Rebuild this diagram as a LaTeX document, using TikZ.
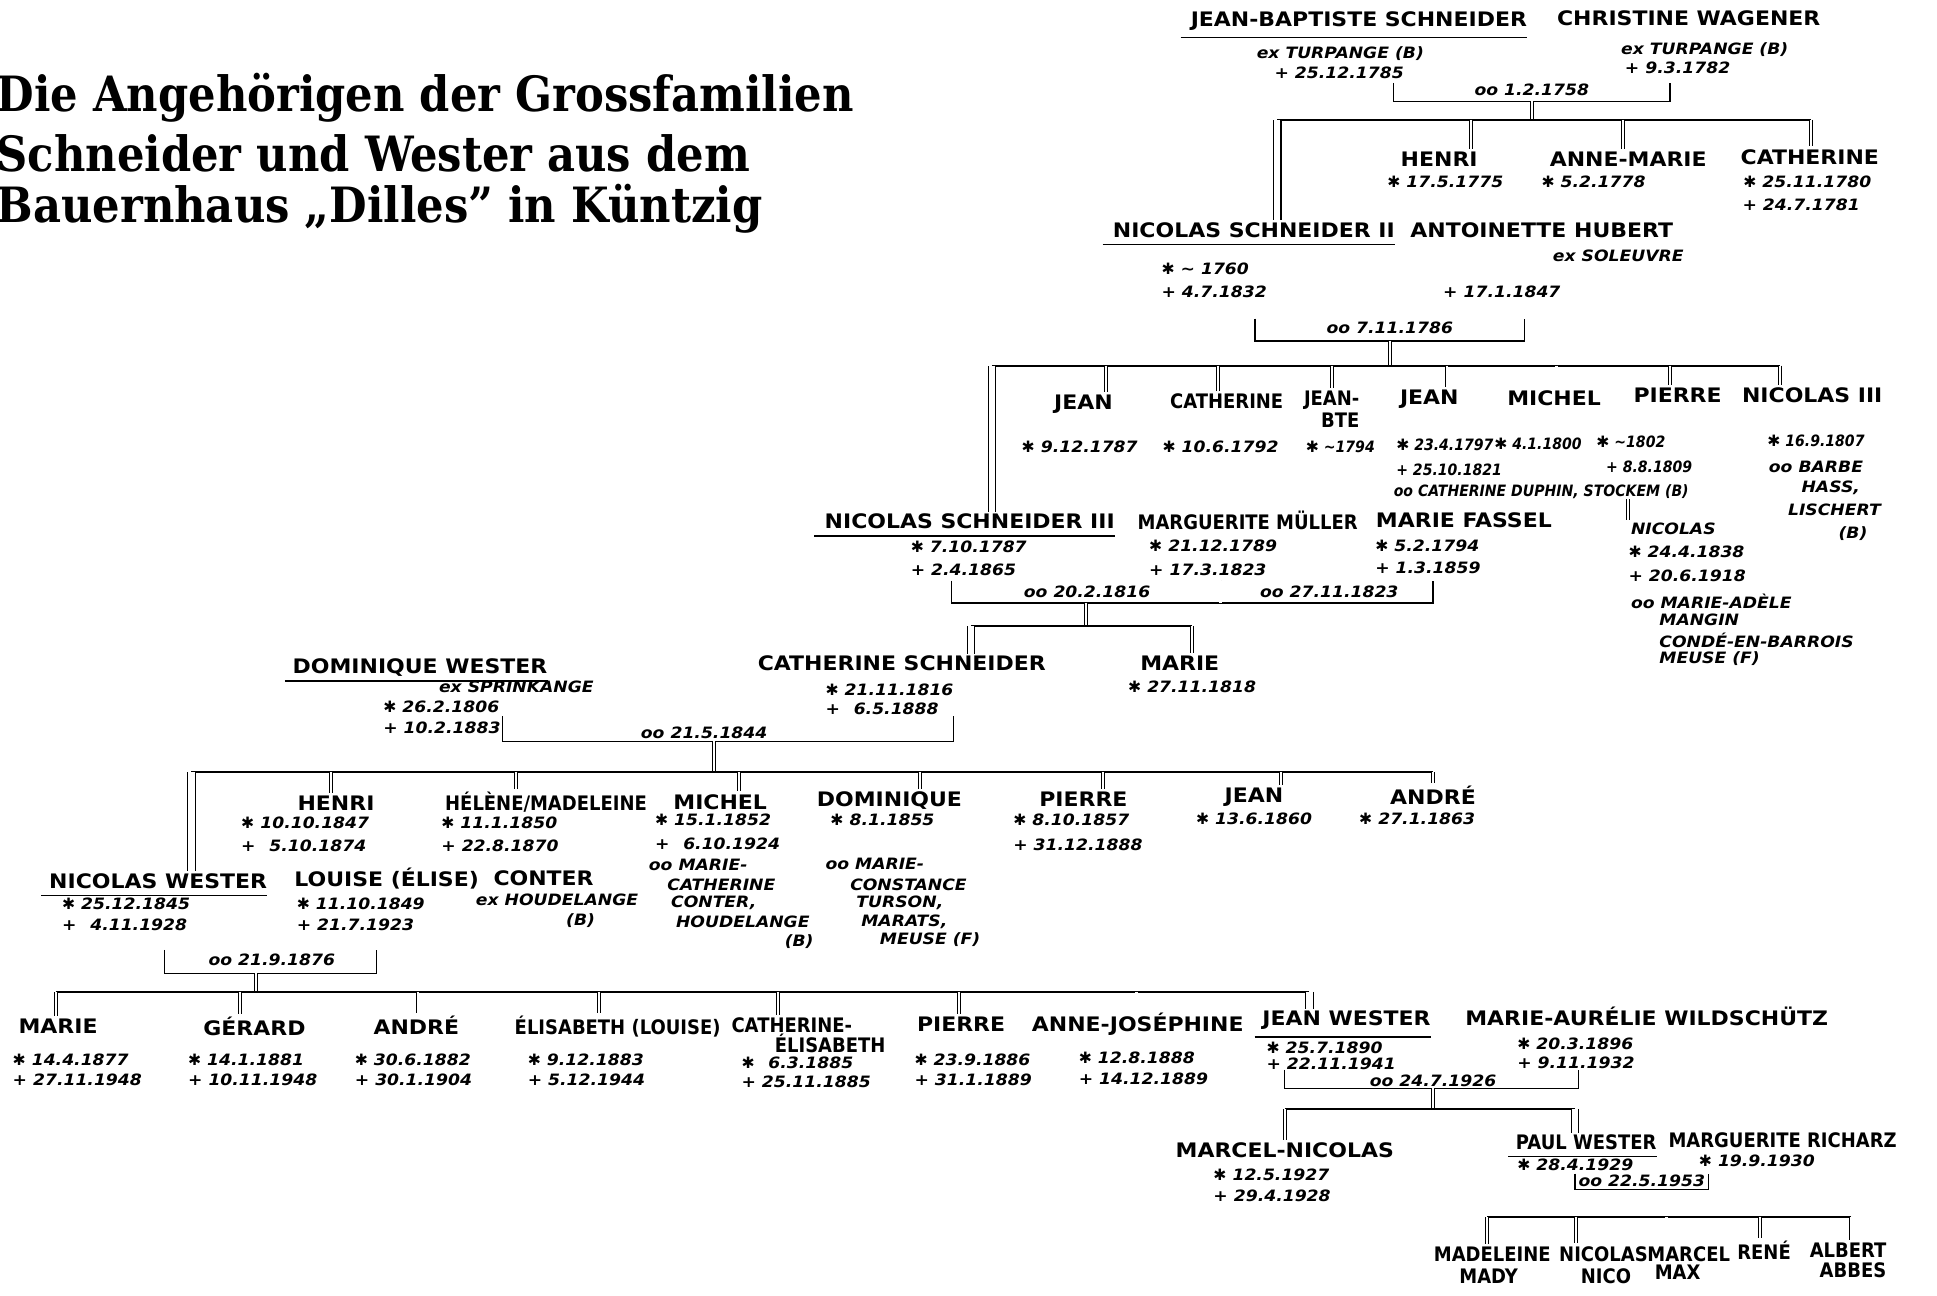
\documentclass[tikz,border=0pt]{standalone}
\usepackage{fontspec}
\newfontfamily\titlefont{DejaVu Serif}[FakeStretch=0.89]
\newfontfamily\handfont{DejaVu Sans}[FakeStretch=1.1]
\newfontfamily\handnarrow{DejaVu Sans}[FakeStretch=0.9]
\newfontfamily\starfont{DejaVu Sans}
\newcommand{\born}{{\starfont\mdseries\upshape\char"2731}}
\newcommand{\wed}{oo}
\tikzset{
  person/.style={font=\handfont\bfseries\fontsize{11.5}{12}\selectfont,inner sep=0pt},
  slim/.style={person,font=\handnarrow\bfseries\fontsize{11.5}{12}\selectfont},
  dates/.style={font=\handfont\bfseries\itshape\fontsize{9}{10}\selectfont,inner sep=0pt},
  tight/.style={font=\handnarrow\bfseries\itshape\fontsize{9}{10}\selectfont,inner sep=0pt},
  heading/.style={font=\titlefont\bfseries\fontsize{28}{30}\selectfont,inner sep=0pt,anchor=west},
  uline/.style={line width=0.9pt},
  sibline/.style={line width=1.2pt},
  bracket/.style={line width=0.8pt},
  stem/.style={double,double distance=1.2pt,line width=0.5pt},
  drop/.style={stem,shorten >=1.5pt},
  lineage/.style={double,double distance=3.5pt,line width=0.7pt,shorten >=1pt}
}
\begin{document}
\begin{tikzpicture}[x=0.25mm,y=-0.25mm]
  \useasboundingbox (0,0) rectangle (1568,1049);

  \node[heading] (t1) at (-3,79) {Die Angehörigen der Grossfamilien};
  \node[heading] (t2) at (-3,124) {Schneider und Wester aus dem};
  \node[heading] (t3) at (-3,169) {Bauernhaus „Dilles” in Küntzig};

  % Jean-Baptiste Schneider oo Christine Wagener
  \node[person] (jbs) at (1100,17) {JEAN-BAPTISTE SCHNEIDER};
  \node[person] (cw) at (1367,15) {CHRISTINE WAGENER};
  \draw[uline] ([xshift=-2mm,yshift=-1.4mm]jbs.south west) -- ([yshift=-1.4mm]jbs.south east);
  \node[dates] (jbsex) at (1085,43) {ex TURPANGE (B)};
  \node[dates] (jbsd) at (1084,59) {+ 25.12.1785};
  \node[dates] (cwex) at (1380,40) {ex TURPANGE (B)};
  \node[dates] (cwd) at (1358,55) {+ 9.3.1782};
  \node[dates] (w1) at (1240,73) {\wed{} 1.2.1758};
  \coordinate (w1l) at (1128,67);
  \coordinate (w1r) at (1352,67);
  \draw[bracket] (w1l) -- ++(0,15) -| (w1r);
  \coordinate (s1) at (1240,82);
  \coordinate (f1) at (1240,97);
  \coordinate (f1a) at (1034,97);
  \coordinate (f1b) at (1466,97);
  \draw[stem] (s1) -- (f1);
  \draw[sibline] (f1a) -- (f1b);

  \node[person] (henri) at (1165,129) {HENRI};
  \node[dates] (henrib) at (1170,147) {\born{} 17.5.1775};
  \node[person] (annemarie) at (1318,129) {ANNE-MARIE};
  \node[dates] (annemarieb) at (1290,147) {\born{} 5.2.1778};
  \node[person] (cath1) at (1465,127) {CATHERINE};
  \node[dates] (cath1b) at (1463,147) {\born{} 25.11.1780};
  \node[dates] (cath1d) at (1458,166) {+ 24.7.1781};
  \coordinate (d1a) at (1191,97);
  \coordinate (d1b) at (1314,97);
  \draw[drop] (d1a) -- (d1a |- henri.north);
  \draw[drop] (d1b) -- (d1b |- annemarie.north);
  \draw[drop] (f1b) -- (f1b |- cath1.north);

  % Nicolas Schneider II oo Antoinette Hubert
  \node[person] (nic2) at (1015,186) {NICOLAS SCHNEIDER II};
  \draw[uline] ([xshift=-2mm,yshift=-1.4mm]nic2.south west) -- ([yshift=-1.4mm]nic2.south east);
  \draw[lineage] (f1a) -- (f1a |- nic2.north);
  \node[person] (ah) at (1248,186) {ANTOINETTE HUBERT};
  \node[dates] (ahex) at (1310,207) {ex SOLEUVRE};
  \node[dates,anchor=west] (nic2b) at (940,218) {\born{} \textasciitilde{} 1760};
  \node[dates,anchor=west] (nic2d) at (940,236) {+ 4.7.1832};
  \node[dates,anchor=west] (ahd) at (1168,236) {+ 17.1.1847};
  \node[dates] (w2) at (1125,265) {\wed{} 7.11.1786};
  \coordinate (w2l) at (1016,258);
  \coordinate (w2r) at (1234,258);
  \draw[bracket] (w2l) -- ++(0,18) -| (w2r);
  \coordinate (s2) at (1125,276);
  \coordinate (f2) at (1125,296);
  \coordinate (f2a) at (803,296);
  \coordinate (f2b) at (1441,296);
  \draw[stem] (s2) -- (f2);
  \draw[sibline] (f2a) -- (f2b);

  \node[person] (jean1) at (877,327) {JEAN};
  \node[dates] (jean1b) at (874,362) {\born{} 9.12.1787};
  \node[slim] (cath2) at (993,325) {CATHERINE};
  \node[dates] (cath2b) at (988,362) {\born{} 10.6.1792};
  \node[slim] (jbte) at (1078,324) {JEAN-};
  \node[slim] (jbte2) at (1085,340) {BTE};
  \node[tight] (jbteb) at (1085,362) {\born{} \textasciitilde 1794};
  \node[person] (jean2) at (1157,323) {JEAN};
  \node[tight,anchor=west] (jean2b) at (1130,360) {\born{} 23.4.1797};
  \node[tight,anchor=west] (jean2d) at (1130,380) {+ 25.10.1821};
  \node[tight,anchor=west] (jean2w) at (1128,398) {\wed{} CATHERINE DUPHIN, STOCKEM (B)};
  \node[person] (michel) at (1258,322) {MICHEL};
  \node[tight] (michelb) at (1245,359) {\born{} 4.1.1800};
  \node[person] (pierre) at (1358,320) {PIERRE};
  \node[tight,anchor=west] (pierreb) at (1292,358) {\born{} \textasciitilde 1802};
  \node[tight] (pierred) at (1335,378) {+ 8.8.1809};
  \node[person] (nic4) at (1467,320) {NICOLAS III};
  \node[tight] (nic4b) at (1470,357) {\born{} 16.9.1807};
  \node[dates] (nic4w) at (1470,378) {\wed{} BARBE};
  \node[dates] (nic4w2) at (1482,395) {HASS,};
  \node[dates] (nic4w3) at (1485,413) {LISCHERT};
  \node[dates] (nic4w4) at (1500,432) {(B)};
  \coordinate (d2a) at (895,296);
  \coordinate (d2b) at (986,296);
  \coordinate (d2c) at (1078,296);
  \coordinate (d2d) at (1171,296);
  \coordinate (d2e) at (1260,296);
  \coordinate (d2f) at (1352,296);
  \draw[drop] (d2a) -- (d2a |- jean1.north);
  \draw[drop] (d2b) -- (d2b |- cath2.north);
  \draw[drop] (d2c) -- (d2c |- jbte.north);
  \draw[drop] (d2d) -- (d2d |- jean2.north);
  \draw[drop] (d2e) -- (d2e |- michel.north);
  \draw[drop] (d2f) -- (d2f |- pierre.north);
  \draw[drop] (f2b) -- (f2b |- nic4.north);

  \node[dates,anchor=west] (nics) at (1320,428) {NICOLAS};
  \coordinate (dsa) at (1318,404);
  \draw[drop] (dsa) -- (dsa |- nics.north);
  \node[dates,anchor=west] (nicsb) at (1318,447) {\born{} 24.4.1838};
  \node[dates,anchor=west] (nicsd) at (1318,466) {+ 20.6.1918};
  \node[dates,anchor=west] (nicsw) at (1320,487) {\wed{} MARIE-ADÈLE};
  \node[dates,anchor=west] (nicsw2) at (1343,502) {MANGIN};
  \node[dates,anchor=west] (nicsw3) at (1343,518) {CONDÉ-EN-BARROIS};
  \node[dates,anchor=west] (nicsw4) at (1343,533) {MEUSE (F)};

  % Nicolas Schneider III oo Marguerite Mueller, oo Marie Fassel
  \node[person] (nic3) at (785,422) {NICOLAS SCHNEIDER III};
  \draw[uline] ([xshift=-2mm,yshift=-1.4mm]nic3.south west) -- ([yshift=-1.4mm]nic3.south east);
  \draw[lineage] (f2a) -- (f2a |- nic3.north);
  \node[slim] (mm) at (1010,421) {MARGUERITE MÜLLER};
  \node[person] (mf) at (1185,421) {MARIE FASSEL};
  \node[dates,anchor=west] (nic3b) at (737,443) {\born{} 7.10.1787};
  \node[dates,anchor=west] (nic3d) at (737,461) {+ 2.4.1865};
  \node[dates,anchor=west] (mmb) at (930,442) {\born{} 21.12.1789};
  \node[dates,anchor=west] (mmd) at (930,461) {+ 17.3.1823};
  \node[dates,anchor=west] (mfb) at (1113,442) {\born{} 5.2.1794};
  \node[dates,anchor=west] (mfd) at (1113,460) {+ 1.3.1859};
  \node[dates] (w3a) at (880,479) {\wed{} 20.2.1816};
  \node[dates] (w3b) at (1076,479) {\wed{} 27.11.1823};
  \coordinate (w3l) at (770,470);
  \coordinate (w3m) at (988,470);
  \coordinate (w3r) at (1160,470);
  \draw[bracket] (w3l) -- ++(0,18) -| (w3r);
  \draw[stem] (w3m) -- ++(0,18);
  \coordinate (s3) at (879,488);
  \coordinate (f3) at (879,507);
  \coordinate (f3a) at (786,507);
  \coordinate (f3b) at (965,507);
  \draw[stem] (s3) -- (f3);
  \draw[sibline] (f3a) -- (f3b);

  \node[person] (caths) at (730,537) {CATHERINE SCHNEIDER};
  \node[dates,anchor=west] (cathsb) at (668,558) {\born{} 21.11.1816};
  \node[dates,anchor=west] (cathsd) at (668,574) {+ \enspace 6.5.1888};
  \node[person] (marie2) at (955,537) {MARIE};
  \node[dates] (marie2b) at (965,556) {\born{} 27.11.1818};
  \draw[lineage] (f3a) -- (f3a |- caths.north);
  \draw[drop] (f3b) -- (f3b |- marie2.north);

  % Dominique Wester oo Catherine Schneider
  \node[person] (dw) at (340,540) {DOMINIQUE WESTER};
  \draw[uline] ([xshift=-1.5mm,yshift=-1mm]dw.south west) -- ([yshift=-1mm]dw.south east);
  \node[dates] (dwex) at (418,556) {ex SPRINKANGE};
  \node[dates,anchor=west] (dwb) at (310,572) {\born{} 26.2.1806};
  \node[dates,anchor=west] (dwd) at (310,589) {+ 10.2.1883};
  \node[dates] (w4) at (570,593) {\wed{} 21.5.1844};
  \coordinate (w4l) at (407,580);
  \coordinate (w4r) at (772,580);
  \draw[bracket] (w4l) -- ++(0,20) -| (w4r);
  \coordinate (s4) at (578,600);
  \coordinate (f4) at (578,625);
  \coordinate (f4a) at (155,625);
  \coordinate (f4b) at (1160,625);
  \draw[stem] (s4) -- (f4);
  \draw[sibline] (f4a) -- (f4b);

  \node[person] (henri2) at (272,650) {HENRI};
  \node[dates,anchor=west] (henri2b) at (195,666) {\born{} 10.10.1847};
  \node[dates,anchor=west] (henri2d) at (195,685) {+ \enspace 5.10.1874};
  \node[slim] (helene) at (442,649) {HÉLÈNE/MADELEINE};
  \node[dates,anchor=west] (heleneb) at (357,666) {\born{} 11.1.1850};
  \node[dates,anchor=west] (helened) at (357,685) {+ 22.8.1870};
  \node[person] (michel2) at (583,649) {MICHEL};
  \node[dates,anchor=west] (michel2b) at (530,664) {\born{} 15.1.1852};
  \node[dates,anchor=west] (michel2d) at (530,683) {+ \enspace 6.10.1924};
  \node[dates,anchor=west] (michel2w) at (525,700) {\wed{} MARIE-};
  \node[dates,anchor=west] (michel2w2) at (540,716) {CATHERINE};
  \node[dates,anchor=west] (michel2w3) at (543,731) {CONTER,};
  \node[dates,anchor=west] (michel2w4) at (547,746) {HOUDELANGE};
  \node[dates,anchor=west] (michel2w5) at (635,762) {(B)};
  \node[person] (dom2) at (720,648) {DOMINIQUE};
  \node[dates,anchor=west] (dom2b) at (672,664) {\born{} 8.1.1855};
  \node[dates,anchor=west] (dom2w) at (668,699) {\wed{} MARIE-};
  \node[dates,anchor=west] (dom2w2) at (688,716) {CONSTANCE};
  \node[dates,anchor=west] (dom2w3) at (693,731) {TURSON,};
  \node[dates,anchor=west] (dom2w4) at (697,746) {MARATS,};
  \node[dates,anchor=west] (dom2w5) at (712,761) {MEUSE (F)};
  \node[person] (pierre2) at (877,647) {PIERRE};
  \node[dates,anchor=west] (pierre2b) at (820,664) {\born{} 8.10.1857};
  \node[dates,anchor=west] (pierre2d) at (820,684) {+ 31.12.1888};
  \node[person] (jean3) at (1015,645) {JEAN};
  \node[dates,anchor=west] (jean3b) at (968,663) {\born{} 13.6.1860};
  \node[person] (andre) at (1160,644) {ANDRÉ};
  \node[dates,anchor=west] (andreb) at (1100,663) {\born{} 27.1.1863};
  \coordinate (d4a) at (268,625);
  \coordinate (d4b) at (418,625);
  \coordinate (d4c) at (598,625);
  \coordinate (d4d) at (745,625);
  \coordinate (d4e) at (893,625);
  \coordinate (d4f) at (1037,625);
  \draw[drop] (d4a) -- (d4a |- henri2.north);
  \draw[drop] (d4b) -- (d4b |- helene.north);
  \draw[drop] (d4c) -- (d4c |- michel2.north);
  \draw[drop] (d4d) -- (d4d |- dom2.north);
  \draw[drop] (d4e) -- (d4e |- pierre2.north);
  \draw[drop] (d4f) -- (d4f |- jean3.north);
  \draw[drop] (f4b) -- (f4b |- andre.north);

  % Nicolas Wester oo Louise (Elise) Conter
  \node[person] (nw) at (128,713) {NICOLAS WESTER};
  \draw[uline] ([xshift=-1.5mm,yshift=-1.4mm]nw.south west) -- ([yshift=-1.4mm]nw.south east);
  \draw[lineage] (f4a) -- (f4a |- nw.north);
  \node[person] (louise) at (313,711) {LOUISE (ÉLISE)};
  \node[person] (conter) at (440,711) {CONTER};
  \node[dates,anchor=west] (louiseex) at (385,728) {ex HOUDELANGE};
  \node[dates] (louiseb2) at (470,745) {(B)};
  \node[dates,anchor=west] (nwb) at (50,732) {\born{} 25.12.1845};
  \node[dates,anchor=west] (nwd) at (50,749) {+ \enspace 4.11.1928};
  \node[dates,anchor=west] (louiseb) at (240,732) {\born{} 11.10.1849};
  \node[dates,anchor=west] (louised) at (240,749) {+ 21.7.1923};
  \node[dates] (w5) at (220,777) {\wed{} 21.9.1876};
  \coordinate (w5l) at (133,769);
  \coordinate (w5r) at (305,769);
  \draw[bracket] (w5l) -- ++(0,19) -| (w5r);
  \coordinate (s5) at (207,788);
  \coordinate (f5) at (207,803);
  \coordinate (f5a) at (45,803);
  \coordinate (f5b) at (1060,803);
  \draw[stem] (s5) -- (f5);
  \draw[sibline] (f5a) -- (f5b);

  \node[person] (marie3) at (47,831) {MARIE};
  \node[dates,anchor=west] (marie3b) at (10,858) {\born{} 14.4.1877};
  \node[dates,anchor=west] (marie3d) at (10,874) {+ 27.11.1948};
  \node[person] (gerard) at (206,831) {GÉRARD};
  \node[dates,anchor=west] (gerardb) at (152,858) {\born{} 14.1.1881};
  \node[dates,anchor=west] (gerardd) at (152,874) {+ 10.11.1948};
  \node[person] (andre2) at (337,830) {ANDRÉ};
  \node[dates,anchor=west] (andre2b) at (287,858) {\born{} 30.6.1882};
  \node[dates,anchor=west] (andre2d) at (287,874) {+ 30.1.1904};
  \node[slim] (elis) at (500,831) {ÉLISABETH (LOUISE)};
  \node[dates,anchor=west] (elisb) at (427,858) {\born{} 9.12.1883};
  \node[dates,anchor=west] (elisd) at (427,874) {+ 5.12.1944};
  \node[slim] (catel) at (641,830) {CATHERINE-};
  \node[slim] (catel2) at (672,845) {ÉLISABETH};
  \node[dates,anchor=west] (catelb) at (600,860) {\born{} \enspace 6.3.1885};
  \node[dates,anchor=west] (pcateld) at (600,876) {+ 25.11.1885};
  \node[person] (pierre3) at (778,829) {PIERRE};
  \node[dates,anchor=west] (pierre3b) at (740,858) {\born{} 23.9.1886};
  \node[dates,anchor=west] (pierre3d) at (740,874) {+ 31.1.1889};
  \node[person] (annej) at (921,829) {ANNE-JOSÉPHINE};
  \node[dates,anchor=west] (annejb) at (873,856) {\born{} 12.8.1888};
  \node[dates,anchor=west] (annejd) at (873,873) {+ 14.12.1889};
  \coordinate (d5a) at (194,803);
  \coordinate (d5b) at (338,803);
  \coordinate (d5c) at (485,803);
  \coordinate (d5d) at (630,803);
  \coordinate (d5e) at (776,803);
  \coordinate (d5f) at (920,803);
  \draw[drop] (f5a) -- (f5a |- marie3.north);
  \draw[drop] (d5a) -- (d5a |- gerard.north);
  \draw[drop] (d5b) -- (d5b |- andre2.north);
  \draw[drop] (d5c) -- (d5c |- elis.north);
  \draw[drop] (d5d) -- (d5d |- catel.north);
  \draw[drop] (d5e) -- (d5e |- pierre3.north);
  \draw[drop] (d5f) -- (d5f |- annej.north);

  % Jean Wester oo Marie-Aurelie Wildschuetz
  \node[person] (jw) at (1090,826) {JEAN WESTER};
  \draw[uline] ([xshift=-1.5mm,yshift=-1.4mm]jw.south west) -- ([yshift=-1.4mm]jw.south east);
  \draw[lineage] (f5b) -- (f5b |- jw.north);
  \node[person] (maw) at (1333,823) {MARIE-AURÉLIE WILDSCHÜTZ};
  \node[dates,anchor=west] (jwb) at (1025,848) {\born{} 25.7.1890};
  \node[dates,anchor=west] (jwd) at (1025,861) {+ 22.11.1941};
  \node[dates,anchor=west] (mawb) at (1228,845) {\born{} 20.3.1896};
  \node[dates,anchor=west] (mawd) at (1228,860) {+ 9.11.1932};
  \node[dates] (w6) at (1160,875) {\wed{} 24.7.1926};
  \coordinate (w6l) at (1040,866);
  \coordinate (w6r) at (1278,866);
  \draw[bracket] (w6l) -- ++(0,15) -| (w6r);
  \coordinate (s6) at (1160,881);
  \coordinate (f6) at (1160,898);
  \coordinate (f6a) at (1040,898);
  \coordinate (f6b) at (1275,898);
  \draw[stem] (s6) -- (f6);
  \draw[sibline] (f6a) -- (f6b);

  \node[person] (mn) at (1040,931) {MARCEL-NICOLAS};
  \node[dates,anchor=west] (mnb) at (982,951) {\born{} 12.5.1927};
  \node[dates,anchor=west] (mnd) at (982,968) {+ 29.4.1928};
  \draw[drop] (f6a) -- (f6a |- mn.north);

  % Paul Wester oo Marguerite Richarz
  \node[slim] (paul) at (1284,925) {PAUL WESTER};
  \draw[uline] ([xshift=-1.5mm,yshift=-1.2mm]paul.south west) -- ([yshift=-1.2mm]paul.south east);
  \draw[lineage] (f6b) -- (f6b |- paul.north);
  \node[slim] (mr) at (1443,923) {MARGUERITE RICHARZ};
  \node[dates,anchor=west] (paulb) at (1228,943) {\born{} 28.4.1929};
  \node[dates,anchor=west] (mrb) at (1375,940) {\born{} 19.9.1930};
  \node[dates] (w7) at (1329,956) {\wed{} 22.5.1953};
  \coordinate (w7l) at (1275,950);
  \coordinate (w7r) at (1383,950);
  \draw[bracket] (w7l) -- ++(0,13) -| (w7r);
  \coordinate (s7) at (1349,963);
  \coordinate (f7) at (1349,985);
  \coordinate (f7a) at (1204,985);
  \coordinate (f7b) at (1498,985);
  \draw[stem] (s7) -- (f7);
  \draw[sibline] (f7a) -- (f7b);

  \node[slim] (mad) at (1208,1015) {MADELEINE};
  \node[slim] (mad2) at (1205,1033) {MADY};
  \node[slim] (nico) at (1298,1015) {NICOLAS};
  \node[slim] (nico2) at (1300,1033) {NICO};
  \node[slim] (marcel) at (1367,1015) {MARCEL};
  \node[slim] (marcel2) at (1358,1030) {MAX};
  \node[slim] (rene) at (1428,1012) {RENÉ};
  \node[slim] (albert) at (1496,1012) {ALBERT};
  \node[slim] (albert2) at (1500,1028) {ABBES};
  \coordinate (d7a) at (1276,985);
  \coordinate (d7b) at (1425,985);
  \draw[drop] (f7a) -- (f7a |- mad.north);
  \draw[drop] (d7a) -- (d7a |- nico.north);
  \draw[drop] (f7) -- (f7 |- marcel.north);
  \draw[drop] (d7b) -- (d7b |- rene.north);
  \draw[drop] (f7b) -- (f7b |- albert.north);
\end{tikzpicture}
\end{document}
